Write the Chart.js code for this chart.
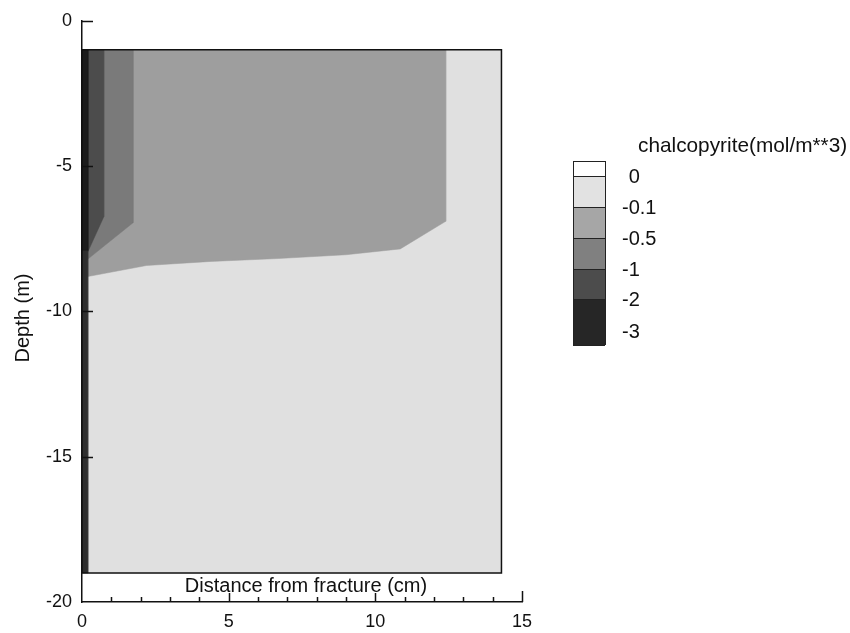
<!DOCTYPE html>
<html>
<head>
<meta charset="utf-8">
<title>chalcopyrite</title>
<script src="https://cdn.jsdelivr.net/npm/chart.js@4.4.0/dist/chart.umd.min.js"></script>
<style>
  html, body { margin: 0; padding: 0; background: #fff; }
  #wrap { width: 850px; height: 633px; position: relative; }
</style>
</head>
<body>
<div id="wrap"><canvas id="chart"></canvas></div>
<script>
// ===== Contour data: chalcopyrite (mol/m**3), depth (m) vs distance from fracture (cm) =====
const xMinorTicks = [1, 2, 3, 4, 5, 6, 7, 8, 9, 10, 11, 12, 13, 14, 15];
const yTickValues = [0, -5, -10, -15];

// model domain outline
const domainX = [0, 14.3, 14.3, 0, 0];
const domainY = [-1, -1, -19, -19, -1];

// -0.1 .. 0 (background of the domain)
const level0X = [0, 14.3, 14.3, 0];
const level0Y = [-1, -1, -19, -19];
// -0.5 .. -0.1
const level1X = [0, 12.4, 12.4, 10.85, 9.0, 6.7, 4.4, 2.2, 0.2, 0];
const level1Y = [-1, -1, -6.9, -7.85, -8.05, -8.18, -8.28, -8.42, -8.8, -8.85];
// -1 .. -0.5
const level2X = [0, 1.74, 1.74, 0.2, 0];
const level2Y = [-1, -1, -6.95, -8.2, -8.3];
// -2 .. -1
const level3X = [0, 0.74, 0.74, 0.2, 0];
const level3Y = [-1, -1, -6.75, -7.95, -8.0];
// strip along the fracture wall
const wallX = [0, 0.2, 0.2, 0];
const wallY = [-1, -1, -19, -19];
// -3 .. -2
const level4X = [0, 0.2, 0.2, 0];
const level4Y = [-1, -1, -7.9, -7.9];

// ===== Legend =====
const legendTitle = "chalcopyrite(mol/m**3)";
const legendLabels = ["0", "-0.1", "-0.5", "-1", "-2", "-3"];
const legendColors = ["#ffffff", "#e2e2e2", "#a6a6a6", "#808080", "#4c4c4c", "#262626"];

const FONT = "'Liberation Sans', Arial, Helvetica, sans-serif";

function pts(xs, ys) {
  return xs.map((v, i) => ({ x: v, y: ys[i] }));
}

function region(xs, ys, color) {
  return {
    data: pts(xs, ys),
    showLine: true,
    fill: "shape",
    backgroundColor: color,
    borderColor: color,
    borderWidth: 0.5,
    pointRadius: 0,
  };
}

// ===== Inward ticks, titles =====
const decorPlugin = {
  id: "decor",
  afterDraw(chart) {
    const { ctx, scales: { x, y } } = chart;
    const yBottom = y.getPixelForValue(-20);
    const xLeft = x.getPixelForValue(0);
    ctx.save();
    ctx.strokeStyle = "#111";
    ctx.lineWidth = 1.5;
    ctx.beginPath();
    xMinorTicks.forEach(v => {
      const px = Math.round(x.getPixelForValue(v)) + 0.5;
      const len = v === 15 ? 11 : (v % 5 === 0 ? 9 : 5);
      ctx.moveTo(px, yBottom);
      ctx.lineTo(px, yBottom - len);
    });
    yTickValues.forEach(v => {
      const py = Math.round(y.getPixelForValue(v)) + 0.5;
      ctx.moveTo(xLeft, py);
      ctx.lineTo(xLeft + 11, py);
    });
    ctx.stroke();

    ctx.fillStyle = "#111";
    ctx.font = "20px " + FONT;
    ctx.textAlign = "center";
    ctx.textBaseline = "alphabetic";
    ctx.fillText("Distance from fracture (cm)", 306, 592);

    ctx.translate(29, 318);
    ctx.rotate(-Math.PI / 2);
    ctx.fillText("Depth (m)", 0, 0);
    ctx.restore();
  }
};

// ===== Colour bar legend =====
const legendPlugin = {
  id: "colorbar",
  afterDraw(chart) {
    const ctx = chart.ctx;
    const left = 573, width = 32;
    const edges = [161, 176, 207, 238, 269, 299, 345];
    ctx.save();
    legendColors.forEach((c, i) => {
      ctx.fillStyle = c;
      ctx.fillRect(left, edges[i], width, edges[i + 1] - edges[i]);
    });
    ctx.strokeStyle = "#222";
    ctx.lineWidth = 1;
    ctx.beginPath();
    edges.forEach(e => {
      ctx.moveTo(left, e + 0.5);
      ctx.lineTo(left + width, e + 0.5);
    });
    ctx.moveTo(left + 0.5, edges[0]);
    ctx.lineTo(left + 0.5, edges[edges.length - 1]);
    ctx.moveTo(left + width + 0.5, edges[0]);
    ctx.lineTo(left + width + 0.5, edges[edges.length - 1]);
    ctx.stroke();

    ctx.fillStyle = "#111";
    ctx.font = "20.8px " + FONT;
    ctx.textAlign = "left";
    ctx.textBaseline = "alphabetic";
    ctx.fillText(legendTitle, 638, 152);

    ctx.font = "20px " + FONT;
    ctx.textBaseline = "middle";
    const minusW = ctx.measureText("-").width;
    legendLabels.forEach((lab, i) => {
      const yy = i < legendLabels.length - 1 ? edges[i + 1] + 1 : 332;
      const xx = lab.startsWith("-") ? 622 : 622 + minusW;
      ctx.fillText(lab, xx, yy);
    });
    ctx.restore();
  }
};

const ctx = document.getElementById("chart").getContext("2d");

new Chart(ctx, {
  type: "scatter",
  data: {
    datasets: [
      {
        data: pts(domainX, domainY),
        showLine: true,
        fill: false,
        borderColor: "#111",
        borderWidth: 1.5,
        pointRadius: 0,
      },
      region(level4X, level4Y, "#1c1c1c"),
      region(wallX, wallY, "#2e2e2e"),
      region(level3X, level3Y, "#4c4c4c"),
      region(level2X, level2Y, "#7a7a7a"),
      region(level1X, level1Y, "#9e9e9e"),
      region(level0X, level0Y, "#e0e0e0"),
    ]
  },
  options: {
    responsive: true,
    maintainAspectRatio: false,
    animation: false,
    layout: { padding: { top: 18, right: 328, bottom: 0, left: 0 } },
    plugins: {
      legend: { display: false },
      tooltip: { enabled: false },
    },
    scales: {
      x: {
        type: "linear",
        min: 0,
        max: 15,
        grid: { display: false, drawTicks: false },
        border: { display: true, color: "#111", width: 1.5 },
        ticks: {
          stepSize: 5,
          padding: 9,
          color: "#111",
          font: { size: 18, family: FONT },
        },
        afterFit: s => { s.height = 31; },
      },
      y: {
        type: "linear",
        min: -20,
        max: 0,
        grid: { display: false, drawTicks: false },
        border: { display: true, color: "#111", width: 1.5 },
        ticks: {
          stepSize: 5,
          padding: 10,
          color: "#111",
          font: { size: 18, family: FONT },
        },
        afterFit: s => { s.width = 82; },
      }
    }
  },
  plugins: [decorPlugin, legendPlugin]
});
</script>
</body>
</html>
